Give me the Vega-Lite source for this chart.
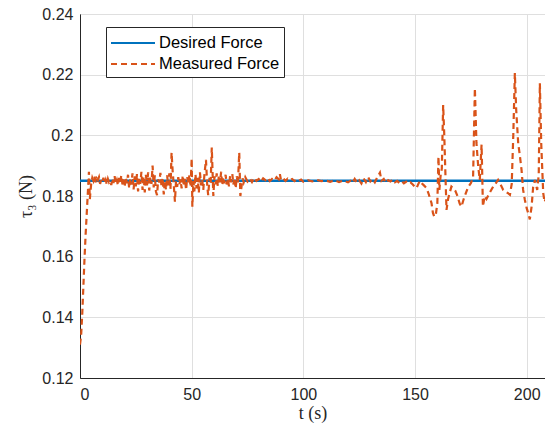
{
  "$schema": "https://vega.github.io/schema/vega-lite/v6.json",
  "width": 465,
  "height": 364,
  "autosize": {"type": "none"},
  "padding": {"left": 80, "top": 14, "right": 0, "bottom": 61},
  "background": "white",
  "config": {
    "view": {"stroke": "#262626", "strokeWidth": 1},
    "font": "Liberation Sans",
    "axis": {
      "labelFont": "Liberation Sans",
      "labelFontSize": 16,
      "labelColor": "#262626",
      "gridColor": "#dfdfdf",
      "gridWidth": 1,
      "domainColor": "#262626",
      "tickColor": "#262626",
      "tickSize": 0,
      "titleFont": "Liberation Serif",
      "titleFontSize": 18,
      "titleFontWeight": "normal",
      "titleColor": "#262626"
    },
    "legend": {
      "title": null, "orient": "none", "legendX": 26, "legendY": 13,
      "strokeColor": "#262626", "fillColor": "white", "padding": 4, "rowPadding": 0,
      "symbolType": "M-1,0H3", "symbolSize": 484, "symbolStrokeWidth": 2,
      "labelFontSize": 16.5, "labelFont": "Liberation Sans", "labelColor": "#000000", "labelOffset": 25
    }
  },
  "datasets": {
    "desired": [
      {"t": 0, "v": 0.185, "series": "Desired Force"},
      {"t": 208.2, "v": 0.185, "series": "Desired Force"}
    ],
    "measured": [
      {"t": 0, "v": 0.131}, {"t": 0.5, "v": 0.134}, {"t": 1, "v": 0.141}, {"t": 1.5, "v": 0.15}, {"t": 2, "v": 0.159},
      {"t": 2.5, "v": 0.167}, {"t": 3, "v": 0.174}, {"t": 3.5, "v": 0.181}, {"t": 4, "v": 0.188}, {"t": 4.4, "v": 0.179},
      {"t": 5, "v": 0.184}, {"t": 5.5, "v": 0.186}, {"t": 6, "v": 0.185}, {"t": 6.5, "v": 0.1865}, {"t": 7, "v": 0.1845},
      {"t": 7.5, "v": 0.1858}, {"t": 8, "v": 0.1852}, {"t": 8.5, "v": 0.1862}, {"t": 9, "v": 0.184}, {"t": 9.5, "v": 0.1855},
      {"t": 10, "v": 0.1848}, {"t": 10.5, "v": 0.186}, {"t": 11, "v": 0.1842}, {"t": 11.5, "v": 0.1853}, {"t": 12, "v": 0.1838},
      {"t": 12.5, "v": 0.1856}, {"t": 13, "v": 0.1845}, {"t": 13.5, "v": 0.185}, {"t": 14, "v": 0.1836}, {"t": 14.5, "v": 0.1858},
      {"t": 15, "v": 0.1843}, {"t": 15.5, "v": 0.1865}, {"t": 16, "v": 0.184}, {"t": 16.5, "v": 0.1852}, {"t": 17, "v": 0.1835},
      {"t": 17.5, "v": 0.186}, {"t": 18, "v": 0.1845}, {"t": 18.5, "v": 0.1868}, {"t": 19, "v": 0.1838}, {"t": 19.5, "v": 0.1855},
      {"t": 20, "v": 0.183}, {"t": 20.5, "v": 0.1862}, {"t": 21, "v": 0.1842}, {"t": 21.5, "v": 0.187}, {"t": 22, "v": 0.1825},
      {"t": 22.5, "v": 0.1858}, {"t": 23, "v": 0.1838}, {"t": 23.5, "v": 0.1875}, {"t": 24, "v": 0.1822}, {"t": 24.5, "v": 0.1865},
      {"t": 25, "v": 0.1832}, {"t": 25.5, "v": 0.1872}, {"t": 26, "v": 0.1815}, {"t": 26.5, "v": 0.186}, {"t": 27, "v": 0.184},
      {"t": 27.5, "v": 0.188}, {"t": 28, "v": 0.182}, {"t": 28.5, "v": 0.1865}, {"t": 29, "v": 0.1812}, {"t": 29.5, "v": 0.187},
      {"t": 30, "v": 0.1835}, {"t": 30.5, "v": 0.1878}, {"t": 31, "v": 0.1818}, {"t": 31.5, "v": 0.1862}, {"t": 32, "v": 0.184},
      {"t": 32.5, "v": 0.19}, {"t": 33, "v": 0.1828}, {"t": 33.5, "v": 0.1868}, {"t": 34, "v": 0.1815}, {"t": 34.5, "v": 0.1803},
      {"t": 35, "v": 0.1855}, {"t": 35.5, "v": 0.1845}, {"t": 36, "v": 0.1876}, {"t": 36.5, "v": 0.183}, {"t": 37, "v": 0.186},
      {"t": 37.5, "v": 0.1805}, {"t": 38, "v": 0.185}, {"t": 38.5, "v": 0.182}, {"t": 39, "v": 0.1868}, {"t": 39.5, "v": 0.1835},
      {"t": 40, "v": 0.1875}, {"t": 40.5, "v": 0.1822}, {"t": 41, "v": 0.1943}, {"t": 41.5, "v": 0.188}, {"t": 42, "v": 0.1835},
      {"t": 42.5, "v": 0.1781}, {"t": 43, "v": 0.185}, {"t": 43.5, "v": 0.183}, {"t": 44, "v": 0.1862}, {"t": 44.5, "v": 0.1838},
      {"t": 45, "v": 0.1855}, {"t": 45.5, "v": 0.1825}, {"t": 46, "v": 0.1868}, {"t": 46.5, "v": 0.1832}, {"t": 47, "v": 0.1858},
      {"t": 47.5, "v": 0.182}, {"t": 48, "v": 0.1862}, {"t": 48.5, "v": 0.184}, {"t": 49, "v": 0.187}, {"t": 49.5, "v": 0.183},
      {"t": 50, "v": 0.1924}, {"t": 50.3, "v": 0.1765}, {"t": 50.8, "v": 0.185}, {"t": 51.2, "v": 0.1815}, {"t": 51.7, "v": 0.1872},
      {"t": 52.2, "v": 0.1825}, {"t": 52.7, "v": 0.186}, {"t": 53.2, "v": 0.181}, {"t": 53.7, "v": 0.1878}, {"t": 54.2, "v": 0.1835},
      {"t": 54.7, "v": 0.1855}, {"t": 55.2, "v": 0.182}, {"t": 55.7, "v": 0.187}, {"t": 56.4, "v": 0.1919}, {"t": 57, "v": 0.183},
      {"t": 57.4, "v": 0.1803}, {"t": 58, "v": 0.186}, {"t": 58.5, "v": 0.184}, {"t": 59, "v": 0.196}, {"t": 59.7, "v": 0.18},
      {"t": 60.2, "v": 0.1865}, {"t": 60.7, "v": 0.1838}, {"t": 61.2, "v": 0.1875}, {"t": 61.7, "v": 0.1832}, {"t": 62.2, "v": 0.1868},
      {"t": 62.7, "v": 0.1845}, {"t": 63.2, "v": 0.188}, {"t": 63.7, "v": 0.1835}, {"t": 64.2, "v": 0.1862}, {"t": 64.7, "v": 0.1842},
      {"t": 65.2, "v": 0.187}, {"t": 65.7, "v": 0.1838}, {"t": 66.2, "v": 0.1858}, {"t": 66.7, "v": 0.1832}, {"t": 67.2, "v": 0.1866},
      {"t": 67.7, "v": 0.1845}, {"t": 68.2, "v": 0.1872}, {"t": 68.7, "v": 0.1838}, {"t": 69.2, "v": 0.186}, {"t": 69.7, "v": 0.1825},
      {"t": 70.2, "v": 0.1865}, {"t": 70.7, "v": 0.184}, {"t": 71.3, "v": 0.1943}, {"t": 71.8, "v": 0.18}, {"t": 72.3, "v": 0.183},
      {"t": 72.8, "v": 0.1858}, {"t": 73.3, "v": 0.1845}, {"t": 74, "v": 0.1862}, {"t": 75, "v": 0.1848}, {"t": 76, "v": 0.1858},
      {"t": 77, "v": 0.1846}, {"t": 78, "v": 0.186}, {"t": 79, "v": 0.185}, {"t": 80, "v": 0.1856}, {"t": 81, "v": 0.1847},
      {"t": 82, "v": 0.1858}, {"t": 83, "v": 0.1852}, {"t": 84, "v": 0.186}, {"t": 85, "v": 0.1849}, {"t": 86, "v": 0.1856},
      {"t": 87, "v": 0.1851}, {"t": 88, "v": 0.1862}, {"t": 89, "v": 0.1855}, {"t": 89.5, "v": 0.1872}, {"t": 90, "v": 0.1852},
      {"t": 91, "v": 0.1858}, {"t": 92, "v": 0.185}, {"t": 93, "v": 0.1857}, {"t": 94, "v": 0.1852}, {"t": 95, "v": 0.1856},
      {"t": 96, "v": 0.1849}, {"t": 97, "v": 0.1855}, {"t": 98, "v": 0.185}, {"t": 99, "v": 0.1854}, {"t": 100, "v": 0.1847},
      {"t": 102, "v": 0.1852}, {"t": 104, "v": 0.1848}, {"t": 106, "v": 0.1853}, {"t": 108, "v": 0.1849}, {"t": 110, "v": 0.1851},
      {"t": 112, "v": 0.1847}, {"t": 114, "v": 0.1852}, {"t": 116, "v": 0.1846}, {"t": 118, "v": 0.1851}, {"t": 120, "v": 0.1845},
      {"t": 121, "v": 0.185}, {"t": 122, "v": 0.1843}, {"t": 123, "v": 0.1856}, {"t": 124, "v": 0.1844}, {"t": 125, "v": 0.1852},
      {"t": 126, "v": 0.1841}, {"t": 127, "v": 0.1858}, {"t": 128, "v": 0.1846}, {"t": 129, "v": 0.1862}, {"t": 130, "v": 0.1848},
      {"t": 131, "v": 0.1855}, {"t": 132, "v": 0.1845}, {"t": 133, "v": 0.186}, {"t": 134.3, "v": 0.1877}, {"t": 135, "v": 0.185},
      {"t": 136, "v": 0.1856}, {"t": 137, "v": 0.1843}, {"t": 138, "v": 0.1852}, {"t": 139, "v": 0.1848}, {"t": 140, "v": 0.1854},
      {"t": 141, "v": 0.1845}, {"t": 142, "v": 0.185}, {"t": 143, "v": 0.1843}, {"t": 144, "v": 0.1849}, {"t": 145, "v": 0.1842},
      {"t": 146, "v": 0.1847}, {"t": 147, "v": 0.184}, {"t": 148, "v": 0.1845}, {"t": 149, "v": 0.1838}, {"t": 150, "v": 0.183},
      {"t": 150.7, "v": 0.1826}, {"t": 151.5, "v": 0.184}, {"t": 152.2, "v": 0.185}, {"t": 153, "v": 0.1842}, {"t": 154, "v": 0.1835},
      {"t": 155.2, "v": 0.1826}, {"t": 156.2, "v": 0.1805}, {"t": 157.4, "v": 0.1776}, {"t": 158, "v": 0.1745}, {"t": 158.6, "v": 0.1732},
      {"t": 159.3, "v": 0.1738}, {"t": 160, "v": 0.1776}, {"t": 160.5, "v": 0.193}, {"t": 160.9, "v": 0.182}, {"t": 161.5, "v": 0.187},
      {"t": 162, "v": 0.189}, {"t": 162.6, "v": 0.21}, {"t": 163.1, "v": 0.2}, {"t": 163.5, "v": 0.19}, {"t": 164.1, "v": 0.1754},
      {"t": 164.8, "v": 0.179}, {"t": 165.5, "v": 0.181}, {"t": 166.3, "v": 0.1831}, {"t": 167.2, "v": 0.1825}, {"t": 168, "v": 0.1818},
      {"t": 169, "v": 0.18}, {"t": 170, "v": 0.1775}, {"t": 170.8, "v": 0.1765}, {"t": 171.8, "v": 0.179}, {"t": 172.8, "v": 0.181},
      {"t": 173.8, "v": 0.183}, {"t": 175, "v": 0.1842}, {"t": 176, "v": 0.186}, {"t": 176.8, "v": 0.2155}, {"t": 177.5, "v": 0.1975},
      {"t": 178.3, "v": 0.1897}, {"t": 179, "v": 0.1853}, {"t": 179.8, "v": 0.197}, {"t": 180.4, "v": 0.1765}, {"t": 181.2, "v": 0.18},
      {"t": 182, "v": 0.179}, {"t": 183, "v": 0.1805}, {"t": 184, "v": 0.1818}, {"t": 185, "v": 0.1831}, {"t": 186, "v": 0.184},
      {"t": 187.2, "v": 0.1853}, {"t": 188.3, "v": 0.1838}, {"t": 189.5, "v": 0.182}, {"t": 190.5, "v": 0.1815}, {"t": 191.5, "v": 0.181},
      {"t": 192.5, "v": 0.1804}, {"t": 193.3, "v": 0.184}, {"t": 194, "v": 0.2}, {"t": 194.7, "v": 0.2205}, {"t": 195.3, "v": 0.2084},
      {"t": 196.2, "v": 0.1974}, {"t": 197, "v": 0.193}, {"t": 197.7, "v": 0.1886}, {"t": 198.4, "v": 0.182}, {"t": 199.2, "v": 0.1787},
      {"t": 200, "v": 0.176}, {"t": 200.7, "v": 0.1743}, {"t": 201.4, "v": 0.1723}, {"t": 202.2, "v": 0.1765}, {"t": 202.9, "v": 0.183},
      {"t": 203.7, "v": 0.1853}, {"t": 204.7, "v": 0.182}, {"t": 205.4, "v": 0.187}, {"t": 205.9, "v": 0.2172}, {"t": 206.5, "v": 0.1975},
      {"t": 207.4, "v": 0.181}, {"t": 208, "v": 0.178}, {"t": 209, "v": 0.18}, {"t": 210, "v": 0.183}
    ]
  },
  "encoding": {
    "x": {
      "field": "t", "type": "quantitative",
      "scale": {"domain": [0, 208.2], "nice": false, "zero": false},
      "axis": {"values": [0, 50, 100, 150, 200], "title": "t (s)", "labelPadding": 8, "titlePadding": 2, "grid": true}
    },
    "y": {
      "field": "v", "type": "quantitative",
      "scale": {"domain": [0.12, 0.24], "nice": false, "zero": false},
      "axis": {"values": [0.12, 0.14, 0.16, 0.18, 0.2, 0.22, 0.24], "format": ".2~f", "title": "τ₃ (N)", "labelPadding": 7, "titlePadding": 6, "grid": true}
    },
    "color": {
      "field": "series", "type": "nominal",
      "scale": {"domain": ["Desired Force", "Measured Force"], "range": ["#0072BD", "#D95319"]}
    },
    "strokeDash": {
      "field": "series", "type": "nominal",
      "scale": {"domain": ["Desired Force", "Measured Force"], "range": [[1, 0], [6, 4]]}
    }
  },
  "layer": [
    {
      "data": {"name": "desired"},
      "mark": {"type": "line", "strokeWidth": 2.5, "clip": true}
    },
    {
      "data": {"name": "measured"},
      "transform": [{"calculate": "'Measured Force'", "as": "series"}],
      "mark": {"type": "line", "strokeWidth": 2.2, "clip": true}
    }
  ]
}
